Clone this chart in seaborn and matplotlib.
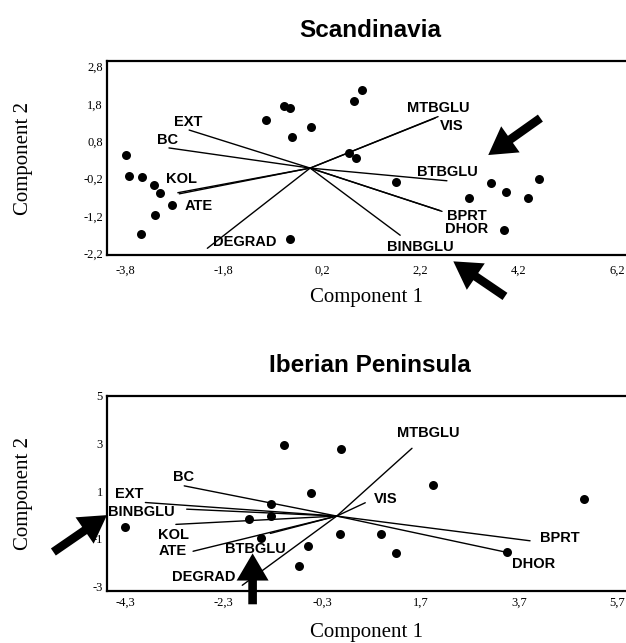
import matplotlib
matplotlib.use("Agg")
import matplotlib.pyplot as plt
import seaborn as sns
import pandas as pd

# ---- data ----
# Scandinavia: case scores
scan_x = [-3.79, -3.73, -3.45, -3.22, -3.09, -2.84, -3.20, -3.47, -0.94, -0.57, -0.45, -0.40, -0.02,
          -0.45, 1.01, 0.86, 0.74, 0.89, 1.71, 3.63, 3.94, 4.61, 4.38, 3.18, 3.89]
scan_y = [0.42, -0.12, -0.16, -0.36, -0.60, -0.90, -1.17, -1.68, 1.37, 1.75, 1.70, 0.92, 1.17,
          -1.81, 2.17, 1.88, 0.49, 0.36, -0.29, -0.32, -0.56, -0.21, -0.72, -0.72, -1.57]
# Scandinavia: variable loadings
scan_vars = ["EXT", "BC", "KOL", "ATE", "DEGRAD", "MTBGLU", "VIS", "BTBGLU", "BPRT", "DHOR", "BINBGLU"]
scan_lx = [-2.50, -2.91, -2.73, -2.70, -2.13, 2.56, 2.50, 2.74, 2.64, 2.60, 1.79]
scan_ly = [1.10, 0.62, -0.58, -0.61, -2.07, 1.46, 1.42, -0.26, -1.08, -1.06, -1.72]
scan_origin = (-0.04, 0.08)
scan_xticks = [-3.8, -1.8, 0.2, 2.2, 4.2, 6.2]
scan_yticks = [2.8, 1.8, 0.8, -0.2, -1.2, -2.2]

# Iberian Peninsula: case scores
iber_x = [-1.08, -0.52, -1.33, -1.33, -1.79, -4.31, -1.54, -0.59, -0.76, 0.08, 1.95, 5.03,
          0.06, 0.90, 1.21, 3.47]
iber_y = [2.94, 0.93, 0.45, -0.04, -0.18, -0.50, -0.97, -1.30, -2.13, 2.77, 1.24, 0.66,
          -0.82, -0.82, -1.61, -1.57]
# Iberian Peninsula: variable loadings
iber_vars = ["MTBGLU", "VIS", "BPRT", "DHOR", "BC", "EXT", "BINBGLU", "KOL", "ATE", "BTBGLU", "DEGRAD"]
iber_lx = [1.53, 0.58, 3.93, 3.42, -3.10, -3.89, -3.05, -3.27, -2.92, -1.35, -1.92]
iber_ly = [2.80, 0.51, -1.09, -1.56, 1.22, 0.52, 0.24, -0.40, -1.53, -0.78, -2.96]
iber_origin = (0.0, -0.05)
iber_xticks = [-4.3, -2.3, -0.3, 1.7, 3.7, 5.7]
iber_yticks = [5, 3, 1, -1, -3]

# highlight arrows (tail, head)
scan_arrows = [((4.64, 1.42), (3.58, 0.43)), ((3.92, -3.36), (2.87, -2.42))]
iber_arrows = [((-5.76, -1.56), (-4.67, -0.01)), ((-1.71, -3.76), (-1.71, -1.62))]

# label offsets in points from the end of each loading line
scan_offsets = {"EXT": (-1, 6), "BC": (-1, 5.5), "KOL": (3, 10), "ATE": (14, -8.6),
                "DEGRAD": (27, 4.3), "MTBGLU": (0, 6.5), "VIS": (12, -6), "BTBGLU": (0, 6.5),
                "BPRT": (18, -3), "DHOR": (19, -13), "BINBGLU": (14.4, -8.4)}
iber_offsets = {"MTBGLU": (12, 10.8), "VIS": (14.4, 2.4), "BPRT": (21.6, 2.2), "DHOR": (20.4, -8.4),
                "BC": (-0.5, 6.5), "EXT": (-12, 6), "BINBGLU": (-32.4, -1.9), "KOL": (-1.7, -7.7),
                "ATE": (-15, 0), "BTBGLU": (-10.8, -11.5), "DEGRAD": (-28, 6)}

sns.set_style("white")
plt.rcParams["font.family"] = ["Liberation Serif", "DejaVu Serif"]
plt.rcParams["text.color"] = "black"
plt.rcParams["axes.labelcolor"] = "black"
plt.rcParams["xtick.color"] = "black"
plt.rcParams["ytick.color"] = "black"


def fmt(v):
    return f"{v:g}".replace(".", ",")


def biplot(ax, title, px, py, names, lx, ly, origin, offsets, xticks, yticks, xlim, ylim, arrows):
    df = pd.DataFrame({"c1": px, "c2": py})
    sns.scatterplot(data=df, x="c1", y="c2", ax=ax, color="black", s=42, linewidth=0, zorder=3)
    for name, x, y in zip(names, lx, ly):
        ax.plot([origin[0], x], [origin[1], y], color="black", lw=1.0, zorder=2)
        ax.annotate(name, (x, y), xytext=offsets[name], textcoords="offset points",
                    ha="center", va="center", fontsize=10.5, fontweight="bold",
                    family="Liberation Sans", color="black", zorder=4)
    for tail, head in arrows:
        # big filled pointer arrows
        ax.annotate("", xy=head, xytext=tail, annotation_clip=False,
                    arrowprops=dict(arrowstyle="simple,head_length=0.85,head_width=1.0,tail_width=0.27",
                                    mutation_scale=23, lw=0, color="black",
                                    shrinkA=0, shrinkB=0),
                    zorder=5)
    ax.set_xlim(*xlim)
    ax.set_ylim(*ylim)
    ax.set_xticks(xticks)
    ax.set_xticklabels([fmt(v) for v in xticks])
    ax.set_yticks(yticks)
    ax.set_yticklabels([fmt(v) for v in yticks])
    ax.tick_params(length=0, labelsize=9, pad=3, colors="black")
    for side in ["left", "top", "bottom"]:
        ax.spines[side].set_linewidth(1.6)
        ax.spines[side].set_color("black")
    ax.spines["right"].set_visible(False)
    ax.set_xlabel("Component 1", fontsize=15, color="black")
    ax.set_ylabel("Component 2", fontsize=15, color="black")
    ax.set_title(title, fontsize=17.5, fontweight="bold", family="Liberation Sans",
                 color="black", pad=17, x=0.507)


fig = plt.figure(figsize=(6.26, 6.43), dpi=100)
ax1 = fig.add_axes([0.1709, 0.6034, 0.8291, 0.3017])
ax2 = fig.add_axes([0.1709, 0.0809, 0.8291, 0.3033])

biplot(ax1, "Scandinavia", scan_x, scan_y, scan_vars, scan_lx, scan_ly, scan_origin, scan_offsets,
       scan_xticks, scan_yticks, (-4.17, 6.38), (-2.25, 2.95), scan_arrows)
biplot(ax2, "Iberian Peninsula", iber_x, iber_y, iber_vars, iber_lx, iber_ly, iber_origin, iber_offsets,
       iber_xticks, iber_yticks, (-4.67, 5.88), (-3.2, 5.0), iber_arrows)

ax1.tick_params(axis="x", pad=7)
ax2.tick_params(axis="x", pad=4)
ax1.xaxis.set_label_coords(0.5, -0.17)
ax2.xaxis.set_label_coords(0.5, -0.164)
ax1.yaxis.set_label_coords(-0.143, 0.5)
ax2.yaxis.set_label_coords(-0.143, 0.5)

fig.savefig("out.png", dpi=100)
